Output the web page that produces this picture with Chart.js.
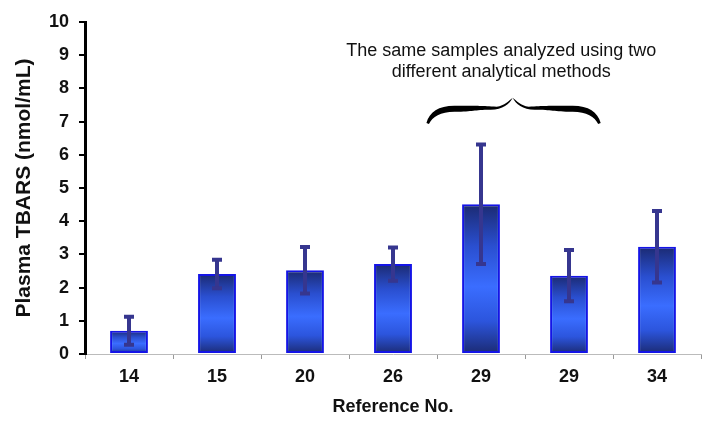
<!DOCTYPE html>
<html>
<head>
<meta charset="utf-8">
<script src="https://cdn.jsdelivr.net/npm/chart.js@4/dist/chart.umd.min.js"></script>
<style>
html,body{margin:0;padding:0;background:#fff;}
#wrap{width:702px;height:422px;position:relative;}
</style>
</head>
<body>
<div id="wrap"><canvas id="c" width="702" height="422"></canvas></div>
<script>
// ---- data ----
const categories = ['14', '15', '20', '26', '29', '29', '34'];
const meanValues = [0.70, 2.41, 2.52, 2.71, 4.51, 2.36, 3.23];
const errorValues = [0.42, 0.43, 0.70, 0.50, 1.80, 0.77, 1.08];
const yTicks = [0, 1, 2, 3, 4, 5, 6, 7, 8, 9, 10];
const noteLines = ['The same samples analyzed using two', 'different analytical methods'];

const FONT = '"Liberation Sans", Arial, sans-serif';

function barGradient(context) {
  const chart = context.chart;
  const area = chart.chartArea;
  if (!area) return '#3366ff';
  const ys = chart.scales.y;
  const v = meanValues[context.dataIndex];
  const top = ys.getPixelForValue(v);
  const bottom = ys.getPixelForValue(0);
  const g = chart.ctx.createLinearGradient(0, top, 0, bottom);
  g.addColorStop(0, '#1b2a72');
  g.addColorStop(0.28, '#2a4fd0');
  g.addColorStop(0.55, '#3a6dff');
  g.addColorStop(0.78, '#2c55dd');
  g.addColorStop(1, '#1b2a72');
  return g;
}

const errorBarPlugin = {
  id: 'errorBars',
  afterDatasetsDraw(chart) {
    const ctx = chart.ctx;
    const xs = chart.scales.x, ys = chart.scales.y;
    ctx.save();
    ctx.strokeStyle = '#36368f';
    meanValues.forEach((m, i) => {
      const x = xs.getPixelForValue(i);
      const yHi = ys.getPixelForValue(m + errorValues[i]);
      const yLo = ys.getPixelForValue(m - errorValues[i]);
      ctx.lineWidth = 4;
      ctx.beginPath();
      ctx.moveTo(x, yHi);
      ctx.lineTo(x, yLo);
      ctx.stroke();
      ctx.lineWidth = 4;
      ctx.beginPath();
      ctx.moveTo(x - 5, yHi);
      ctx.lineTo(x + 5, yHi);
      ctx.moveTo(x - 5, yLo);
      ctx.lineTo(x + 5, yLo);
      ctx.stroke();
    });
    ctx.restore();
  }
};

function braceHalf(ctx, xE, xM, yE, yT, s) {
  // s = +1 for left half (end at left), -1 for right half
  const top = yT + 8, bot = yT + 14;
  ctx.moveTo(xE, yE);
  ctx.bezierCurveTo(xE + s * 3, yE - 11, xE + s * 12, top, xE + s * 28, top);
  ctx.bezierCurveTo(xE + s * 55, top, xM - s * 32, top, xM - s * 16, top + 1);
  ctx.bezierCurveTo(xM - s * 8, top, xM - s * 4, yT + 3, xM, yT);
  ctx.bezierCurveTo(xM - s * 3, yT + 6, xM - s * 10, bot - 2, xM - s * 22, bot - 2);
  ctx.bezierCurveTo(xM - s * 40, bot - 2, xE + s * 48, bot, xE + s * 28, bot);
  ctx.bezierCurveTo(xE + s * 14, bot, xE + s * 6, yE - 6, xE + s * 2.5, yE + 1);
  ctx.closePath();
}

const notePlugin = {
  id: 'note',
  afterDraw(chart) {
    const ctx = chart.ctx;
    const xs = chart.scales.x, ys = chart.scales.y;
    ctx.save();
    ctx.fillStyle = '#111';
    ctx.font = '18px ' + FONT;
    ctx.textAlign = 'center';
    ctx.textBaseline = 'middle';
    const tx = xs.getPixelForValue(4.23);
    ctx.fillText(noteLines[0], tx, ys.getPixelForValue(9.12));
    ctx.fillText(noteLines[1], tx, ys.getPixelForValue(8.50));
    // curly brace
    const xL = xs.getPixelForValue(3.38);
    const xR = xs.getPixelForValue(5.36);
    const xM = xs.getPixelForValue(4.36);
    const yEnd = ys.getPixelForValue(6.96);
    const yTip = ys.getPixelForValue(7.72);
    ctx.fillStyle = '#000';
    ctx.beginPath();
    braceHalf(ctx, xL, xM, yEnd, yTip, 1);
    braceHalf(ctx, xR, xM, yEnd, yTip, -1);
    ctx.fill();
    ctx.restore();
  }
};

new Chart(document.getElementById('c'), {
  type: 'bar',
  data: {
    labels: categories,
    datasets: [{
      data: meanValues,
      backgroundColor: barGradient,
      borderColor: '#1414e6',
      borderWidth: 2,
      borderSkipped: false,
      categoryPercentage: 1,
      barPercentage: 0.43
    }]
  },
  options: {
    responsive: false,
    animation: false,
    events: [],
    layout: { padding: { top: 22, right: 1, left: 0, bottom: 0 } },
    plugins: { legend: { display: false }, tooltip: { enabled: false } },
    scales: {
      x: {
        offset: true,
        grid: {
          offset: true,
          drawOnChartArea: false,
          drawTicks: true,
          tickLength: 5,
          tickColor: '#999',
          lineWidth: 1
        },
        border: { display: true, color: '#bbb', width: 1 },
        ticks: {
          color: '#111',
          padding: 7,
          font: { family: FONT, size: 18, weight: 'bold' }
        },
        title: {
          display: true,
          text: 'Reference No.',
          color: '#111',
          font: { family: FONT, size: 18, weight: 'bold' },
          padding: { top: 0, bottom: 4 }
        },
        afterFit(s) { s.height = 68; }
      },
      y: {
        min: 0,
        max: 10,
        afterBuildTicks(s) { s.ticks = yTicks.map(v => ({ value: v })); },
        grid: {
          drawOnChartArea: false,
          drawTicks: true,
          tickLength: 6,
          tickColor: '#000',
          lineWidth: 2
        },
        border: { display: true, color: '#000', width: 3 },
        ticks: {
          color: '#111',
          padding: 10,
          font: { family: FONT, size: 18, weight: 'bold' }
        },
        title: {
          display: true,
          text: 'Plasma TBARS (nmol/mL)',
          color: '#111',
          font: { family: FONT, size: 21, weight: 'bold' },
          padding: { top: 12, bottom: 0 }
        },
        afterFit(s) { s.width = 85; }
      }
    }
  },
  plugins: [errorBarPlugin, notePlugin]
});
</script>
</body>
</html>
